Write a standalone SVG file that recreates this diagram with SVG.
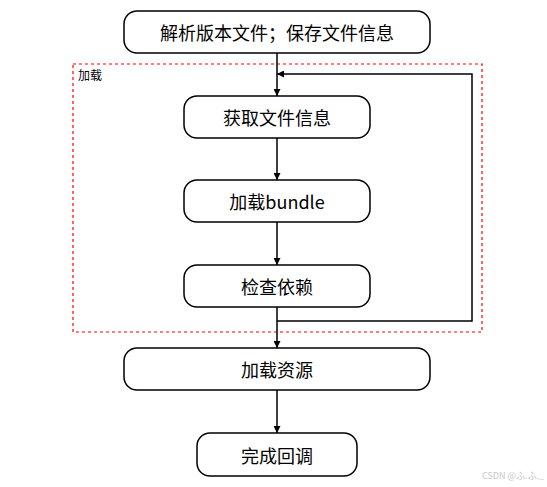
<svg xmlns="http://www.w3.org/2000/svg" width="547" height="487" viewBox="0 0 547 487">
<style>
.node rect{fill:#fff;stroke:#000;stroke-width:1.5}
.node text{font-family:"Noto Sans CJK SC","Noto Sans",sans-serif;font-size:18px;text-anchor:middle;dominant-baseline:central;fill:#000}
.conn{fill:none;stroke:#000;stroke-width:1.5}
</style>
<defs>
<marker id="arr" viewBox="0 0 10 10" refX="10" refY="5" markerWidth="7" markerHeight="7" markerUnits="userSpaceOnUse" orient="auto"><path d="M0,0 L10,5 L0,10 z" fill="#000"/></marker>
</defs>
<rect width="547" height="487" fill="#fff"/>
<g id="group-load">
<rect x="73" y="64" width="409" height="268" fill="none" stroke="#f00" stroke-width="1.2" stroke-dasharray="3,3"/>
<text x="78" y="80" font-family="Noto Sans CJK SC,sans-serif" font-size="12" fill="#000">加载</text>
</g>
<g id="connectors">
<line class="conn" x1="277" y1="53" x2="277" y2="96" marker-end="url(#arr)"/>
<line class="conn" x1="277" y1="138" x2="277" y2="180" marker-end="url(#arr)"/>
<line class="conn" x1="277" y1="222" x2="277" y2="265" marker-end="url(#arr)"/>
<line class="conn" x1="277" y1="307" x2="277" y2="348" marker-end="url(#arr)"/>
<polyline class="conn" points="277,321 472,321 472,74 277,74" marker-end="url(#arr)"/>
<line class="conn" x1="277" y1="390" x2="277" y2="433" marker-end="url(#arr)"/>
</g>
<g id="n1" class="node"><rect x="124" y="11" width="306" height="42" rx="13"/><text x="277" y="32">解析版本文件；保存文件信息</text></g>
<g id="n2" class="node"><rect x="184" y="96" width="186" height="42" rx="13"/><text x="277" y="117">获取文件信息</text></g>
<g id="n3" class="node"><rect x="184" y="180" width="186" height="42" rx="13"/><text x="277" y="201">加载bundle</text></g>
<g id="n4" class="node"><rect x="184" y="265" width="186" height="42" rx="13"/><text x="277" y="286">检查依赖</text></g>
<g id="n5" class="node"><rect x="124" y="348" width="306" height="42" rx="13"/><text x="277" y="369">加载资源</text></g>
<g id="n6" class="node"><rect x="197" y="433" width="160" height="43" rx="13"/><text x="277" y="454.5">完成回调</text></g>
<text x="482" y="479" font-family="Noto Sans CJK SC,sans-serif" font-size="9" fill="#c8c8c8">CSDN @ふ.ふ._</text>
</svg>
